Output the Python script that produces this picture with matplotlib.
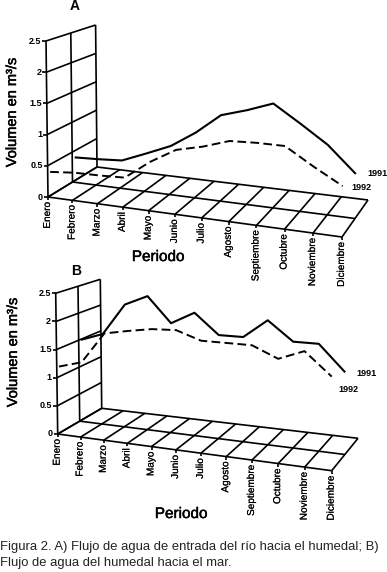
import matplotlib
matplotlib.use("Agg")
import matplotlib.pyplot as plt
import matplotlib.patheffects as pe

plt.rcParams['font.family'] = ['Liberation Sans', 'DejaVu Sans']

meses = ['Enero', 'Febrero', 'Marzo', 'Abril', 'Mayo', 'Junio', 'Julio', 'Agosto',
         'Septiembre', 'Octubre', 'Noviembre', 'Diciembre']
valores = [0, 0.5, 1, 1.5, 2, 2.5]
valores_txt = ['0', '0.5', '1', '1.5', '2', '2.5']

a_1991 = [0.39, 0.41, 0.44, 0.61, 0.79, 1.07, 1.42, 1.56, 1.73, 1.45, 1.15, 0.72]
a_1992 = [0.38, 0.42, 0.43, 0.45, 0.76, 1.01, 1.12, 1.27, 1.30, 1.31, 1.04, 0.79]
b_1991 = [1.49, 1.65, 2.25, 2.46, 2.01, 2.26, 1.90, 1.92, 2.29, 1.95, 1.97, 1.50]
b_1992 = [1.18, 1.31, 1.88, 1.98, 2.07, 2.11, 1.98, 2.00, 2.02, 1.84, 2.04, 1.65]

# esquinas del piso en pixeles: frente izq, frente der, fondo izq, fondo der
piso_a = [(48, 197), (342, 237), (97, 167), (368, 200)]
piso_b = [(57.7, 434), (331.7, 470.7), (101.7, 408.3), (358, 438.3)]
alto_a = (62.4, 56.8)
alto_b = (56.3, 51.6)

grueso = [pe.withStroke(linewidth=0.35, foreground='k')]


def proy(piso, alto, mes, prof, val):
    t = mes / 11
    u = 0.908 * t + 0.092 * t * t   # perspectiva leve
    fx = piso[0][0] + (piso[1][0] - piso[0][0]) * u
    fy = piso[0][1] + (piso[1][1] - piso[0][1]) * u
    bx = piso[2][0] + (piso[3][0] - piso[2][0]) * u
    by = piso[2][1] + (piso[3][1] - piso[2][1]) * u
    x = fx + (bx - fx) * prof
    y = fy + (by - fy) * prof
    h = alto[0] + (alto[1] - alto[0]) * prof
    return x - 0.8 * val * (1 - 0.3 * prof), y - h * val


def linea(ax, puntos, lw=1.2, **kw):
    ax.plot([p[0] for p in puntos], [p[1] for p in puntos], color='k', lw=lw,
            solid_capstyle='butt', **kw)


def panel(ax, piso, alto, s91, s92, prof91=0.55, prof92=0.05):
    # pared
    for d in [0, 0.5, 1]:
        linea(ax, [proy(piso, alto, 0, d, 0), proy(piso, alto, 0, d, 2.5)])
    for v, txt in zip(valores, valores_txt):
        linea(ax, [proy(piso, alto, 0, 0, v), proy(piso, alto, 0, 1, v)])
        x, y = proy(piso, alto, 0, 0, v)
        linea(ax, [(x - 4, y), (x, y)])
        ax.text(x - 5, y, txt, ha='right', va='center', fontsize=6.5, fontweight='bold')
    # piso
    for d in [0, 0.5, 1]:
        linea(ax, [proy(piso, alto, 0, d, 0), proy(piso, alto, 11, d, 0)])
    for m, nombre in enumerate(meses):
        linea(ax, [proy(piso, alto, m, 0, 0), proy(piso, alto, m, 1, 0)])
        x, y = proy(piso, alto, m, 0, 0)
        linea(ax, [(x, y), (x, y + 3)])
        ax.text(x - 1, y + 5, nombre, rotation=90, ha='center', va='top', fontsize=7.2,
                path_effects=[pe.withStroke(linewidth=0.1, foreground='k')])
    # series
    p91 = [proy(piso, alto, m, prof91, v) for m, v in enumerate(s91)]
    p92 = [proy(piso, alto, m, prof92, v) for m, v in enumerate(s92)]
    linea(ax, p91, lw=1.5)
    linea(ax, p92, lw=1.4, linestyle=(0, (4.5, 2.2)))


fig = plt.figure(figsize=(3.87, 5.72), dpi=100)
ax = fig.add_axes([0, 0, 1, 1])
ax.set_xlim(0, 387)
ax.set_ylim(572, 0)
ax.axis('off')

panel(ax, piso_a, alto_a, a_1991, a_1992)
panel(ax, piso_b, alto_b, b_1991, b_1992)

ax.text(75, 6, 'A', ha='center', va='center', fontsize=10, fontweight='bold')
ax.text(76, 271, 'B', ha='center', va='center', fontsize=10, fontweight='bold')

ax.text(12, 112, 'Volumen en m³/s', rotation=90, ha='center', va='center', fontsize=10.5,
        path_effects=grueso)
ax.text(13, 352, 'Volumen en m³/s', rotation=90, ha='center', va='center', fontsize=10.5,
        path_effects=grueso)
ax.text(158, 257, 'Periodo', ha='center', va='center', fontsize=11, path_effects=grueso)
ax.text(181, 514, 'Periodo', ha='center', va='center', fontsize=11, path_effects=grueso)

ax.text(367, 174, '1991', fontsize=6.5, fontweight='bold', va='center')
ax.text(351, 188, '1992', fontsize=6.5, fontweight='bold', va='center')
ax.text(356, 373, '1991', fontsize=6.5, fontweight='bold', va='center')
ax.text(338, 389, '1992', fontsize=6.5, fontweight='bold', va='center')

ax.text(0, 547, 'Figura 2. A) Flujo de agua de entrada del río hacia el humedal; B)',
        fontsize=9.4, color='#222222', va='center')
ax.text(0, 563, 'Flujo de agua del humedal hacia el mar.',
        fontsize=9.4, color='#222222', va='center')

fig.savefig('out.png', dpi=100)
